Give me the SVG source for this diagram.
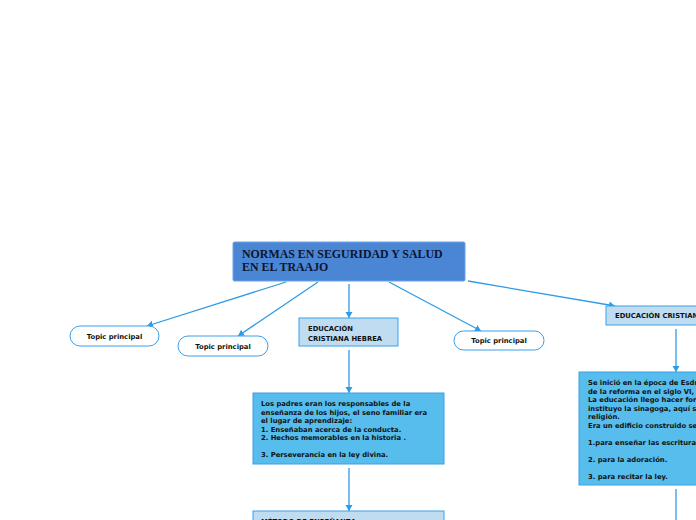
<svg xmlns="http://www.w3.org/2000/svg" width="696" height="520" viewBox="0 0 696 520">
<defs>
<marker id="arr" markerUnits="userSpaceOnUse" markerWidth="8" markerHeight="8" refX="6" refY="3.5" orient="auto">
<path d="M0,0 L6,3.5 L0,7 z" fill="#2e9be6"/>
</marker>
<style>
.c{fill:none;stroke:#2e9be6;stroke-width:1.3;marker-end:url(#arr)}
.t{font-family:"DejaVu Sans",Verdana,sans-serif;font-weight:bold;font-size:6.8px;fill:#111}
.topic{fill:#fff;stroke:#3aa0e8;stroke-width:1}
.light{fill:#bfdcf1;stroke:#3aa0e8;stroke-width:1}
.big{fill:#56bdec;stroke:#3aa0e8;stroke-width:1}
.title{font-family:"Liberation Serif","Times New Roman",serif;font-weight:bold;font-size:11.9px;fill:#0d1530}
</style>
</defs>
<rect width="696" height="520" fill="#fff"/>
<g id="connectors">
<line class="c" x1="286" y1="282" x2="147" y2="326"/>
<line class="c" x1="318" y1="282" x2="238" y2="336"/>
<line class="c" x1="349" y1="284" x2="349" y2="318"/>
<line class="c" x1="389" y1="282" x2="481" y2="331"/>
<line class="c" x1="468" y1="281" x2="615" y2="306"/>
<line class="c" x1="349" y1="350" x2="349" y2="393"/>
<line class="c" x1="349" y1="468" x2="349" y2="511"/>
<line class="c" x1="676" y1="329" x2="676" y2="372"/>
<line x1="676" y1="489" x2="676" y2="520" stroke="#2e9be6" stroke-width="1.3"/>
</g>
<g id="main">
<rect x="233" y="242" width="232" height="39" rx="1.5" fill="#4a86d4" stroke="#6aa3e8" stroke-width="1"/>
<text class="title" x="242" y="258">NORMAS EN SEGURIDAD Y SALUD</text>
<text class="title" x="242" y="271">EN EL TRAAJO</text>
</g>
<g id="topic1">
<rect class="topic" x="70" y="326" width="89" height="20" rx="10"/>
<text class="t" x="114.5" y="338.5" text-anchor="middle">Topic principal</text>
</g>
<g id="topic2">
<rect class="topic" x="178" y="336" width="90" height="20" rx="10"/>
<text class="t" x="223" y="348.5" text-anchor="middle">Topic principal</text>
</g>
<g id="topic3">
<rect class="topic" x="454" y="331" width="90" height="19" rx="9.5"/>
<text class="t" x="499" y="343" text-anchor="middle">Topic principal</text>
</g>
<g id="hebrea">
<rect class="light" x="299" y="318" width="99" height="28"/>
<text class="t" x="308" y="330.5">EDUCACIÓN</text>
<text class="t" x="308" y="340.5">CRISTIANA HEBREA</text>
</g>
<g id="padres">
<rect class="big" x="253" y="393" width="191" height="71"/>
<text class="t" x="261" y="406">Los padres eran los responsables de la</text>
<text class="t" x="261" y="414.5">enseñanza de los hijos, el seno familiar era</text>
<text class="t" x="261" y="423">el lugar de aprendizaje:</text>
<text class="t" x="261" y="431.5">1. Enseñaban acerca de la conducta.</text>
<text class="t" x="261" y="440">2. Hechos memorables en la historia .</text>
<text class="t" x="261" y="457">3. Perseverancia en la ley divina.</text>
</g>
<g id="metodo">
<rect class="light" x="253" y="511" width="191" height="30"/>
<text class="t" x="261" y="524">MÉTODO DE ENSEÑANZA</text>
</g>
<g id="cristiana">
<rect class="light" x="606" y="306" width="100" height="19"/>
<text class="t" x="615" y="318">EDUCACIÓN CRISTIANA</text>
</g>
<g id="sinagoga">
<rect class="big" x="579" y="372" width="130" height="113"/>
<text class="t" x="588" y="385">Se inició en la época de Esdras</text>
<text class="t" x="588" y="393.5">de la reforma en el siglo VI, a.C.</text>
<text class="t" x="588" y="402">La educación llego hacer formal</text>
<text class="t" x="588" y="410.5">instituyo la sinagoga, aquí se</text>
<text class="t" x="588" y="419">religión.</text>
<text class="t" x="588" y="427.5">Era un edificio construido se</text>
<text class="t" x="588" y="444.5">1.para enseñar las escrituras.</text>
<text class="t" x="588" y="461.5">2. para la adoración.</text>
<text class="t" x="588" y="478.5">3. para recitar la ley.</text>
</g>
</svg>
